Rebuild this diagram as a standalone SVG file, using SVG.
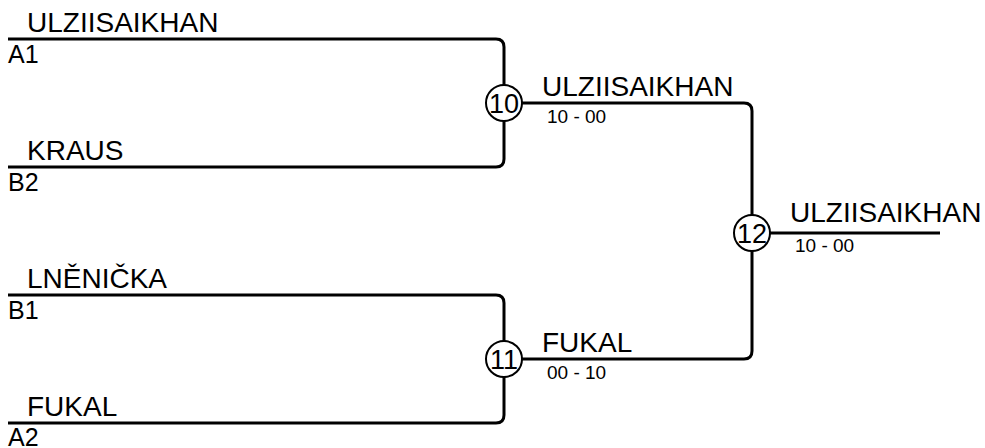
<svg xmlns="http://www.w3.org/2000/svg" width="985" height="448" viewBox="0 0 985 448">
<style>
.ln{fill:none;stroke:#000;stroke-width:3}
.c{fill:#fff;stroke:#000;stroke-width:2}
text{font-family:"Liberation Sans",Arial,sans-serif;fill:#000}
.nm{font-size:28px}
.sd{font-size:25px}
.sc{font-size:19px}
.num{font-size:27px;text-anchor:middle}
</style>
<rect width="985" height="448" fill="#fff"/>
<g id="connectors">
<path class="ln" d="M8 39 H496 Q504 39 504 47 V159 Q504 167 496 167 H8"/>
<path class="ln" d="M8 295 H496 Q504 295 504 303 V415 Q504 423 496 423 H8"/>
<path class="ln" d="M504 103 H744 Q752 103 752 111 V351 Q752 359 744 359 H504"/>
<path class="ln" d="M752 233 H940"/>
</g>
<g id="p1"><text class="nm" x="27" y="32">ULZIISAIKHAN</text><text class="sd" x="8" y="63">A1</text></g>
<g id="p2"><text class="nm" x="27" y="160">KRAUS</text><text class="sd" x="8" y="191">B2</text></g>
<g id="p3"><text class="nm" x="27" y="288">LNĚNIČKA</text><text class="sd" x="8" y="319">B1</text></g>
<g id="p4"><text class="nm" x="27" y="416">FUKAL</text><text class="sd" x="8" y="446">A2</text></g>
<g id="m10"><circle class="c" cx="504" cy="103" r="18"/><text class="num" x="504" y="113">10</text>
<text class="nm" x="542" y="96">ULZIISAIKHAN</text><text class="sc" x="547" y="123">10 - 00</text></g>
<g id="m11"><circle class="c" cx="504" cy="359" r="18"/><text class="num" x="504" y="369">11</text>
<text class="nm" x="542" y="352">FUKAL</text><text class="sc" x="547" y="379">00 - 10</text></g>
<g id="m12"><circle class="c" cx="752" cy="233" r="18"/><text class="num" x="752" y="243">12</text>
<text class="nm" x="790" y="222">ULZIISAIKHAN</text><text class="sc" x="795" y="252">10 - 00</text></g>
</svg>
